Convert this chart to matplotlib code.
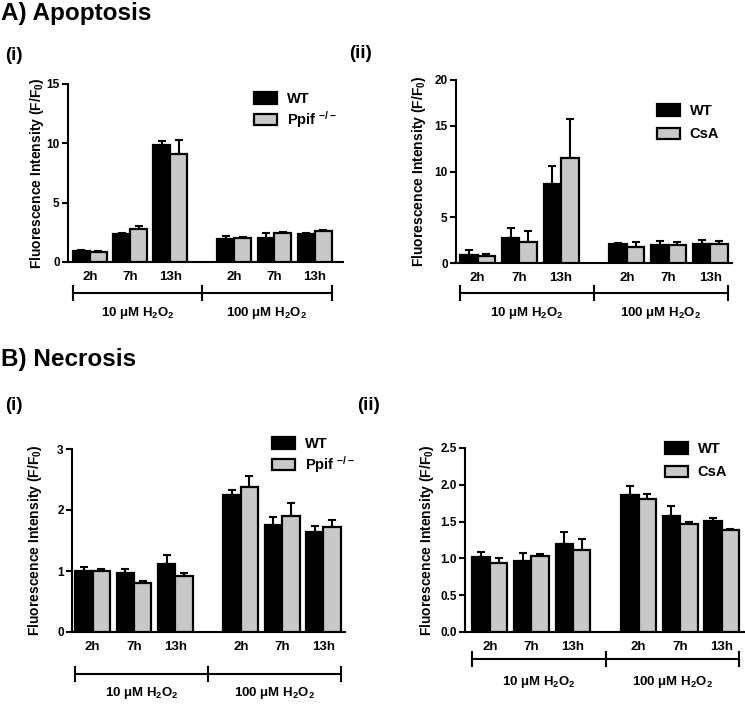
import numpy as np
import matplotlib
matplotlib.use("Agg")
import matplotlib.pyplot as plt
from matplotlib.patches import Patch

plt.rcParams['font.family'] = ['Liberation Sans', 'DejaVu Sans']
plt.rcParams['font.weight'] = 'bold'
plt.rcParams['mathtext.fontset'] = 'custom'
plt.rcParams['mathtext.rm'] = 'Liberation Sans:bold'
plt.rcParams['mathtext.it'] = 'Liberation Sans:bold'
plt.rcParams['mathtext.bf'] = 'Liberation Sans:bold'

# ---------------- data ----------------
time_labels = ["2h", "7h", "13h", "2h", "7h", "13h"]
group_labels = ["10 μM H$_2$O$_2$", "100 μM H$_2$O$_2$"]

apo_i_wt = [0.93, 2.38, 9.9, 1.9, 2.05, 2.35]
apo_i_wt_err = [0.05, 0.05, 0.27, 0.32, 0.42, 0.12]
apo_i_ko = [0.87, 2.78, 9.12, 2.03, 2.45, 2.63]
apo_i_ko_err = [0.03, 0.28, 1.2, 0.05, 0.05, 0.1]

apo_ii_wt = [0.88, 2.72, 8.6, 2.05, 1.95, 2.05]
apo_ii_wt_err = [0.55, 1.15, 2.05, 0.12, 0.5, 0.5]
apo_ii_csa = [0.72, 2.33, 11.45, 1.78, 2.0, 2.07]
apo_ii_csa_err = [0.3, 1.15, 4.3, 0.5, 0.3, 0.3]

nec_i_wt = [1.0, 0.97, 1.12, 2.24, 1.76, 1.64]
nec_i_wt_err = [0.06, 0.06, 0.14, 0.09, 0.12, 0.09]
nec_i_ko = [1.0, 0.81, 0.92, 2.37, 1.9, 1.72]
nec_i_ko_err = [0.04, 0.02, 0.05, 0.18, 0.22, 0.12]

nec_ii_wt = [1.02, 0.96, 1.2, 1.86, 1.57, 1.51]
nec_ii_wt_err = [0.07, 0.12, 0.16, 0.13, 0.14, 0.04]
nec_ii_csa = [0.94, 1.03, 1.12, 1.81, 1.47, 1.38]
nec_ii_csa_err = [0.07, 0.03, 0.15, 0.07, 0.02, 0.02]

W, H = 745, 706
fig = plt.figure(figsize=(W / 100, H / 100), dpi=100)

x = np.array([0, 1, 2, 3.58, 4.58, 5.58])
bw = 0.42
grey = '#c8c8c8'
ylabel = "Fluorescence Intensity (F/F$_0$)"
lab_fs = 9.5


def make_panel(box, wt, wt_err, tr, tr_err, tr_name, yticks, ylim, xlim,
               legend_xy, leg_sp, ylab_x, br_off, grp_off, tfmt=None):
    L, R, T, B = box
    ax = fig.add_axes([L / W, 1 - B / H, (R - L) / W, (B - T) / H])
    axh = B - T
    ax.bar(x - bw / 2, wt, bw, color='black', edgecolor='black',
           linewidth=1.6, zorder=3, label='WT')
    ax.bar(x + bw / 2, tr, bw, color=grey, edgecolor='black',
           linewidth=1.6, zorder=3, label=tr_name)
    ax.errorbar(x - bw / 2, wt, yerr=[np.zeros(len(wt)), wt_err], fmt='none',
                ecolor='black', elinewidth=1.5, capsize=3, capthick=1.5, zorder=2)
    ax.errorbar(x + bw / 2, tr, yerr=[np.zeros(len(tr)), tr_err], fmt='none',
                ecolor='black', elinewidth=1.5, capsize=3, capthick=1.5, zorder=2)
    ax.set_ylim(*ylim)
    ax.set_xlim(*xlim)
    ax.set_yticks(yticks)
    if tfmt:
        ax.set_yticklabels([tfmt % t for t in yticks])
    ax.spines['top'].set_visible(False)
    ax.spines['right'].set_visible(False)
    ax.spines['left'].set_linewidth(1.5)
    ax.spines['bottom'].set_linewidth(1.5)
    ax.tick_params(axis='y', length=4, width=1.5, labelsize=8.5, pad=2)
    ax.tick_params(axis='x', length=0, labelbottom=False)
    for lab in ax.get_yticklabels():
        lab.set_fontweight('bold')
    fig.text(ylab_x / W, 1 - (T + B) / 2 / H, ylabel, rotation=90,
             ha='center', va='center', fontsize=10, fontweight='bold')
    tr_x = ax.get_xaxis_transform()
    # time labels
    for xi, t in zip(x, time_labels):
        ax.text(xi, -15 / axh, t, transform=tr_x, ha='center', va='center',
                fontsize=lab_fs, fontweight='bold')
    # bracket
    xl, xr = x[0] - bw, x[-1] + bw
    xm = (x[2] + x[3]) / 2
    yb = -br_off / axh
    tk = 7 / axh
    ax.plot([xl, xr], [yb, yb], color='black', lw=1.5, transform=tr_x, clip_on=False)
    for xx in (xl, xm, xr):
        ax.plot([xx, xx], [yb - tk, yb + tk], color='black', lw=1.5,
                transform=tr_x, clip_on=False)
    yg = -grp_off / axh
    ax.text((xl + xm) / 2, yg, group_labels[0], transform=tr_x, ha='center',
            va='center', fontsize=lab_fs, fontweight='bold')
    ax.text((xm + xr) / 2, yg, group_labels[1], transform=tr_x, ha='center',
            va='center', fontsize=lab_fs, fontweight='bold')
    handles = [Patch(facecolor='black', edgecolor='black', linewidth=1.6, label='WT'),
               Patch(facecolor=grey, edgecolor='black', linewidth=1.6, label=tr_name)]
    ax.legend(handles=handles, loc='upper left',
              bbox_to_anchor=(legend_xy[0] / W, 1 - legend_xy[1] / H),
              bbox_transform=fig.transFigure, frameon=False,
              prop={'weight': 'bold', 'size': 10.5}, handlelength=1.55,
              handleheight=0.8, handletextpad=0.7, labelspacing=leg_sp,
              borderpad=0, borderaxespad=0)
    return ax


make_panel((68, 343, 84, 262), apo_i_wt, apo_i_wt_err, apo_i_ko, apo_i_ko_err,
           "Ppif $^{-/-}$", [0, 5, 10, 15], (0, 15), (-0.54, 6.28),
           (254, 92), 0.2, 37, 31, 51)
make_panel((456, 732, 80, 263), apo_ii_wt, apo_ii_wt_err, apo_ii_csa, apo_ii_csa_err,
           "CsA", [0, 5, 10, 15, 20], (0, 20), (-0.52, 6.1),
           (657, 104), 0.65, 419, 30, 50)
make_panel((72, 345, 449, 632), nec_i_wt, nec_i_wt_err, nec_i_ko, nec_i_ko_err,
           "Ppif $^{-/-}$", [0, 1, 2, 3], (0, 3), (-0.5, 6.1),
           (272, 437), 0.2, 35, 42, 61)
make_panel((465, 744, 448, 632), nec_ii_wt, nec_ii_wt_err, nec_ii_csa, nec_ii_csa_err,
           "CsA", [0, 0.5, 1.0, 1.5, 2.0, 2.5], (0, 2.5), (-0.6, 6.12),
           (665, 442), 0.65, 427, 27, 50, tfmt="%.1f")

fig.text(1 / W, 1 - 20 / H, "A) Apoptosis", fontsize=17.5, fontweight='bold',
         ha='left', va='baseline')
fig.text(1 / W, 1 - 366 / H, "B) Necrosis", fontsize=17.5, fontweight='bold',
         ha='left', va='baseline')
fig.text(5 / W, 1 - 55 / H, "(i)", fontsize=13.5, fontweight='bold', ha='left', va='center')
fig.text(349 / W, 1 - 53 / H, "(ii)", fontsize=13.5, fontweight='bold', ha='left', va='center')
fig.text(5 / W, 1 - 405 / H, "(i)", fontsize=13.5, fontweight='bold', ha='left', va='center')
fig.text(357 / W, 1 - 405 / H, "(ii)", fontsize=13.5, fontweight='bold', ha='left', va='center')

fig.savefig("out.png", dpi=100)
